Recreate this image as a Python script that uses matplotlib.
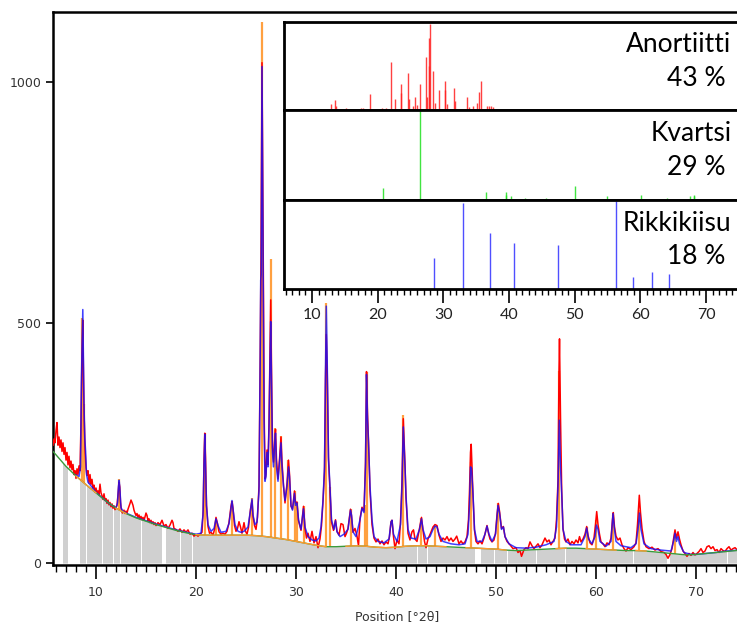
import matplotlib.pyplot as plt
from matplotlib.ticker import MultipleLocator
import numpy as np

# background line (counts) under the pattern
bg_x = [5.7, 6, 7, 8, 9, 10, 11, 12, 13, 14, 15, 16, 17, 18, 19, 20, 21, 22, 23, 24, 25,
        26, 27, 28, 29, 30, 31, 32, 33, 34, 35, 36, 37, 38, 39, 40, 41, 42, 43, 44, 45,
        46, 47, 48, 49, 50, 51, 52, 53, 54, 55, 56, 57, 58, 59, 60, 61, 62, 63, 64, 65,
        66, 67, 68, 69, 70, 71, 72, 73, 74, 74.5]
bg_y = [232, 225, 201, 181, 163, 146, 129, 114, 103, 94, 87, 80, 74, 68, 63, 59, 58, 58, 58, 58, 58,
        57, 55, 52, 49, 45, 41, 37, 34, 34, 35, 36, 35, 33, 32, 33, 35, 36, 36, 35, 34,
        33, 32, 31, 30, 29, 27, 26, 27, 28, 29, 30, 31, 31, 30, 29, 28, 27, 26, 26, 25,
        23, 21, 19, 17, 18, 20, 22, 24, 26, 27]

# ranges where the background is drawn orange instead of green
orange_bg_ranges = [(8, 10), (12, 13), (20, 33), (35, 45), (47, 51), (56, 57), (59, 62), (64, 65)]

# white gaps in the grey area
gaps = [(5.6, 6.65), (7.15, 8.4), (9.0, 9.08), (9.75, 9.83), (10.6, 10.68), (11.25, 11.33),
        (11.7, 11.78), (12.4, 12.5), (14.5, 14.6), (16.6, 17.0), (18.4, 18.48), (19.6, 19.68),
        (42.1, 42.18), (43.1, 43.18), (44.45, 44.55), (47.9, 48.45), (49.75, 49.85),
        (51.1, 51.2), (54.0, 54.1), (56.85, 56.95), (63.65, 63.75), (67.1, 67.4), (73.1, 73.2)]

# observed pattern (red)
obs = [
    (5.7, 245), (5.8, 258), (5.9, 250), (6.0, 275), (6.1, 292), (6.2, 245), (6.3, 262), (6.4, 240),
    (6.5, 256), (6.6, 232), (6.7, 250), (6.8, 226), (6.9, 240), (7.0, 214), (7.1, 230), (7.2, 204),
    (7.3, 222), (7.4, 198), (7.5, 212), (7.6, 194), (7.7, 205), (7.8, 184), (7.9, 192), (8.0, 176),
    (8.1, 196), (8.2, 184), (8.3, 202), (8.4, 192), (8.5, 290), (8.6, 430), (8.68, 505), (8.75, 385),
    (8.82, 300), (8.9, 238), (9.0, 198), (9.1, 182), (9.2, 192), (9.3, 166), (9.4, 184), (9.5, 164),
    (9.6, 174), (9.7, 156), (9.8, 162), (9.9, 148), (10.0, 156), (10.1, 146), (10.2, 150), (10.3, 142),
    (10.4, 164), (10.5, 146), (10.6, 140), (10.7, 132), (10.8, 144), (10.9, 130), (11.0, 134),
    (11.1, 124), (11.2, 131), (11.3, 121), (11.4, 126), (11.5, 117), (11.6, 123), (11.7, 114),
    (11.8, 119), (11.9, 111), (12.0, 116), (12.1, 120), (12.2, 142), (12.3, 168), (12.38, 158),
    (12.45, 126), (12.55, 108), (12.65, 104), (12.8, 110), (12.9, 103), (13.0, 108), (13.1, 104),
    (13.2, 112), (13.3, 118), (13.4, 124), (13.5, 131), (13.6, 126), (13.7, 120), (13.8, 110),
    (13.9, 104), (14.0, 99), (14.1, 103), (14.2, 95), (14.3, 100), (14.4, 92), (14.5, 97), (14.6, 90),
    (14.7, 95), (14.8, 89), (14.9, 96), (15.0, 104), (15.1, 99), (15.2, 88), (15.3, 92), (15.4, 84),
    (15.5, 89), (15.6, 82), (15.7, 86), (15.8, 80), (15.9, 84), (16.0, 78), (16.2, 84), (16.4, 80),
    (16.6, 89), (16.8, 77), (17.0, 80), (17.2, 72), (17.4, 79), (17.6, 89), (17.7, 84), (17.8, 72),
    (18.0, 70), (18.2, 66), (18.4, 71), (18.6, 64), (18.8, 69), (19.0, 64), (19.2, 69), (19.4, 60),
    (19.6, 62), (19.8, 56), (20.0, 59), (20.2, 56), (20.4, 60), (20.6, 64), (20.72, 110), (20.8, 215),
    (20.88, 270), (20.95, 220), (21.05, 120), (21.2, 76), (21.35, 62), (21.5, 64), (21.7, 58),
    (21.85, 70), (22.0, 95), (22.15, 82), (22.3, 65), (22.5, 60), (22.7, 62), (22.9, 60), (23.1, 66),
    (23.3, 84), (23.5, 118), (23.6, 128), (23.7, 114), (23.85, 78), (24.0, 66), (24.15, 72),
    (24.3, 86), (24.45, 75), (24.6, 62), (24.8, 84), (24.95, 66), (25.1, 60), (25.25, 74),
    (25.45, 112), (25.6, 130), (25.7, 98), (25.85, 78), (26.0, 70), (26.15, 95), (26.3, 160),
    (26.42, 430), (26.5, 640), (26.6, 1040), (26.68, 782), (26.75, 560), (26.83, 290), (26.92, 175),
    (27.0, 185), (27.1, 235), (27.2, 205), (27.3, 290), (27.4, 440), (27.47, 547), (27.55, 400),
    (27.65, 240), (27.75, 210), (27.85, 250), (27.95, 278), (28.05, 215), (28.2, 175), (28.35, 215),
    (28.5, 262), (28.6, 210), (28.75, 162), (28.9, 125), (29.1, 165), (29.25, 214), (29.35, 185),
    (29.5, 118), (29.65, 112), (29.85, 150), (29.95, 125), (30.1, 127), (30.25, 88), (30.5, 68),
    (30.65, 98), (30.75, 118), (30.9, 72), (31.05, 52), (31.2, 62), (31.4, 45), (31.6, 66),
    (31.8, 42), (32.0, 55), (32.2, 32), (32.4, 50), (32.55, 78), (32.7, 128), (32.85, 190),
    (32.95, 380), (33.03, 475), (33.12, 400), (33.25, 215), (33.4, 152), (33.55, 85), (33.75, 68),
    (33.95, 90), (34.1, 66), (34.3, 58), (34.5, 82), (34.7, 80), (34.9, 55), (35.05, 62), (35.2, 72),
    (35.45, 112), (35.55, 98), (35.7, 64), (35.9, 72), (36.1, 56), (36.25, 36), (36.4, 92),
    (36.6, 116), (36.8, 108), (36.95, 210), (37.05, 398), (37.15, 310), (37.25, 255), (37.4, 150),
    (37.6, 80), (37.8, 52), (38.0, 44), (38.2, 50), (38.4, 40), (38.6, 46), (38.8, 38), (39.0, 44),
    (39.2, 40), (39.35, 55), (39.5, 86), (39.6, 89), (39.75, 55), (39.9, 30), (40.1, 48), (40.3, 40),
    (40.45, 85), (40.6, 170), (40.73, 300), (40.82, 250), (40.9, 205), (41.0, 135), (41.2, 62),
    (41.4, 48), (41.6, 65), (41.75, 69), (41.9, 50), (42.1, 45), (42.35, 72), (42.55, 95), (42.7, 68),
    (42.85, 45), (43.0, 32), (43.2, 50), (43.45, 62), (43.7, 75), (43.9, 80), (44.1, 78), (44.3, 58),
    (44.5, 45), (44.7, 52), (44.9, 48), (45.1, 55), (45.3, 46), (45.5, 52), (45.7, 45), (45.9, 50),
    (46.07, 56), (46.3, 40), (46.5, 46), (46.7, 40), (46.9, 44), (47.1, 55), (47.25, 90),
    (47.35, 150), (47.45, 230), (47.52, 247), (47.6, 200), (47.7, 140), (47.85, 68), (48.0, 45),
    (48.2, 40), (48.4, 46), (48.6, 40), (48.8, 52), (49.0, 70), (49.1, 78), (49.25, 62), (49.4, 50),
    (49.6, 44), (49.8, 48), (49.95, 62), (50.1, 100), (50.23, 124), (50.35, 108), (50.55, 72),
    (50.73, 76), (50.9, 55), (51.1, 45), (51.4, 38), (51.7, 30), (52.0, 32), (52.2, 22), (52.4, 26),
    (52.55, 14), (52.8, 28), (53.0, 32), (53.2, 30), (53.4, 44), (53.6, 36), (53.8, 30), (54.0, 35),
    (54.2, 40), (54.4, 32), (54.6, 38), (54.9, 52), (55.1, 44), (55.3, 48), (55.5, 38), (55.7, 45),
    (55.9, 52), (56.05, 90), (56.2, 172), (56.3, 400), (56.35, 466), (56.45, 304), (56.57, 150),
    (56.7, 72), (56.85, 50), (57.0, 44), (57.2, 50), (57.4, 38), (57.6, 45), (57.8, 40), (58.0, 48),
    (58.2, 42), (58.35, 55), (58.5, 44), (58.7, 50), (58.9, 60), (59.07, 76), (59.2, 58), (59.4, 42),
    (59.6, 38), (59.8, 52), (59.95, 80), (60.07, 107), (60.2, 80), (60.35, 60), (60.5, 44),
    (60.7, 40), (60.9, 34), (61.1, 42), (61.3, 38), (61.5, 52), (61.65, 90), (61.73, 105),
    (61.85, 75), (62.0, 56), (62.2, 48), (62.4, 52), (62.6, 38), (62.8, 30), (63.0, 25), (63.2, 32),
    (63.5, 28), (63.8, 34), (64.0, 42), (64.15, 80), (64.33, 141), (64.45, 105), (64.6, 72),
    (64.8, 45), (65.0, 34), (65.3, 30), (65.6, 33), (65.9, 27), (66.2, 30), (66.5, 24), (66.8, 22),
    (67.0, 18), (67.2, 10), (67.4, 18), (67.6, 30), (67.75, 50), (67.9, 69), (68.05, 52), (68.2, 65),
    (68.35, 50), (68.5, 38), (68.7, 25), (68.9, 20), (69.1, 14), (69.3, 20), (69.5, 16), (69.7, 22),
    (69.9, 17), (70.1, 20), (70.3, 24), (70.5, 30), (70.7, 22), (70.9, 25), (71.1, 34), (71.3, 36),
    (71.5, 30), (71.7, 34), (71.9, 26), (72.1, 28), (72.3, 22), (72.5, 30), (72.7, 26), (72.9, 24),
    (73.1, 30), (73.3, 34), (73.5, 27), (73.7, 30), (73.9, 32), (74.1, 28), (74.3, 30),
]

# calculated pattern (blue)
calc = [
    (8.0, 183), (8.3, 180), (8.45, 200), (8.55, 390), (8.62, 470), (8.68, 527), (8.74, 420),
    (8.8, 330), (8.88, 260), (8.96, 232), (9.05, 185), (9.2, 168), (9.6, 158), (10.0, 147),
    (10.5, 138), (11.0, 129), (11.5, 121), (12.0, 115), (12.15, 125), (12.25, 160), (12.32, 172),
    (12.4, 150), (12.5, 115), (12.7, 108), (13.0, 104), (14.0, 95), (15.0, 88), (16.0, 81),
    (17.0, 75), (18.0, 69), (19.0, 64), (20.0, 60), (20.5, 62), (20.7, 100), (20.8, 205),
    (20.88, 268), (20.95, 210), (21.05, 120), (21.2, 80), (21.5, 66), (21.8, 72), (22.0, 92),
    (22.2, 78), (22.5, 64), (23.0, 66), (23.3, 82), (23.5, 115), (23.6, 130), (23.7, 112),
    (23.9, 80), (24.2, 66), (24.5, 64), (24.8, 66), (25.2, 75), (25.45, 110), (25.6, 133),
    (25.7, 100), (25.9, 80), (26.1, 85), (26.3, 150), (26.42, 420), (26.47, 588), (26.52, 600),
    (26.6, 1032), (26.66, 800), (26.72, 600), (26.8, 300), (26.9, 170), (27.0, 180), (27.1, 230),
    (27.2, 200), (27.3, 280), (27.4, 420), (27.47, 502), (27.55, 380), (27.65, 230), (27.75, 200),
    (27.85, 240), (27.95, 270), (28.05, 200), (28.2, 170), (28.35, 210), (28.5, 250), (28.6, 200),
    (28.75, 160), (28.9, 130), (29.1, 160), (29.25, 200), (29.35, 180), (29.5, 120), (29.65, 110),
    (29.85, 145), (29.95, 120), (30.1, 125), (30.25, 90), (30.5, 70), (30.65, 95), (30.75, 113),
    (30.9, 75), (31.2, 55), (31.6, 48), (32.0, 46), (32.3, 52), (32.5, 75), (32.7, 130),
    (32.85, 200), (32.95, 400), (33.03, 534), (33.12, 420), (33.25, 220), (33.4, 158), (33.55, 90),
    (33.8, 70), (33.95, 88), (34.1, 65), (34.4, 55), (34.8, 60), (35.2, 70), (35.45, 110),
    (35.55, 100), (35.7, 65), (36.0, 55), (36.4, 90), (36.6, 114), (36.8, 105), (36.95, 200),
    (37.05, 392), (37.15, 300), (37.25, 250), (37.4, 160), (37.6, 90), (37.8, 55), (38.2, 45),
    (38.8, 42), (39.3, 50), (39.5, 85), (39.6, 89), (39.75, 60), (40.1, 45), (40.45, 80),
    (40.6, 160), (40.73, 283), (40.82, 240), (40.9, 200), (41.0, 140), (41.2, 70), (41.5, 52),
    (42.0, 50), (42.35, 70), (42.55, 92), (42.7, 70), (43.0, 50), (43.4, 55), (43.7, 70),
    (43.9, 77), (44.1, 75), (44.3, 60), (44.7, 45), (45.5, 40), (46.3, 38), (46.9, 40), (47.2, 60),
    (47.35, 120), (47.45, 200), (47.55, 197), (47.7, 145), (47.85, 70), (48.1, 45), (48.6, 45),
    (48.9, 60), (49.1, 77), (49.3, 60), (49.6, 45), (49.95, 60), (50.2, 120), (50.35, 105),
    (50.55, 70), (50.75, 75), (50.9, 55), (51.3, 40), (52.0, 32), (53.0, 31), (54.0, 33), (55.0, 38),
    (55.8, 45), (56.05, 75), (56.2, 160), (56.33, 297), (56.45, 200), (56.57, 145), (56.7, 70),
    (57.0, 45), (57.5, 38), (58.5, 38), (58.9, 55), (59.07, 73), (59.25, 50), (59.6, 40), (59.9, 55),
    (60.05, 79), (60.2, 70), (60.4, 45), (61.0, 35), (61.5, 45), (61.7, 103), (61.85, 70), (62.0, 45),
    (62.5, 36), (63.5, 32), (64.0, 40), (64.2, 70), (64.35, 104), (64.5, 70), (64.8, 40), (65.5, 30),
    (66.5, 27), (67.5, 25), (67.75, 45), (67.9, 62), (68.05, 45), (68.2, 55), (68.35, 40), (68.8, 22),
    (69.5, 18), (70.0, 18), (71.0, 20), (72.0, 22), (73.0, 25), (74.3, 27),
]

# reflection markers (orange sticks)
stick_x = [8.62, 8.8, 12.3, 20.85, 22.0, 23.6, 25.6, 26.57, 27.47, 27.9, 28.5, 29.2, 29.85, 30.1,
           30.75, 33.0, 33.4, 35.5, 36.9, 37.07, 40.7, 42.5, 43.9, 47.5, 50.2, 56.3, 59.07, 60.0,
           61.7, 64.3, 67.9]
stick_y = [509, 330, 175, 270, 90, 128, 135, 1125, 633, 280, 265, 214, 150, 127, 118, 540, 158,
           112, 120, 398, 308, 93, 77, 210, 124, 400, 75, 90, 100, 110, 60]

# reference patterns in the inset (relative intensity)
anor_x = [12.85, 13.5, 13.6, 15.2, 17.4, 17.8, 18.9, 20.7, 21.3, 22.0, 22.6, 23.5, 23.6, 24.6,
          24.7, 25.4, 25.7, 26.0, 26.45, 27.3, 27.45, 27.75, 27.85, 27.92, 28.5, 28.7, 29.3,
          30.2, 30.3, 30.6, 31.6, 31.75, 33.65, 33.9, 34.5, 35.2, 35.5, 35.8, 36.6, 36.9, 37.2, 37.5]
anor_h = [0.07, 0.11, 0.04, 0.02, 0.02, 0.02, 0.18, 0.02, 0.02, 0.55, 0.13, 0.29, 0.19, 0.42,
          0.12, 0.04, 0.15, 0.06, 0.30, 0.60, 0.15, 0.50, 0.82, 0.98, 0.44, 0.08, 0.23,
          0.33, 0.23, 0.07, 0.25, 0.10, 0.15, 0.03, 0.05, 0.08, 0.20, 0.33, 0.05, 0.05, 0.04, 0.03]
kvar_x = [20.77, 26.5, 36.45, 39.5, 39.6, 40.25, 42.4, 45.7, 50.1, 54.9, 60.05, 64.0, 67.6,
          68.1, 68.2, 73.4]
kvar_h = [0.13, 1.0, 0.09, 0.09, 0.06, 0.04, 0.02, 0.02, 0.16, 0.04, 0.06, 0.02, 0.04,
          0.06, 0.04, 0.01]
rikki_x = [28.58, 33.0, 37.1, 40.76, 47.46, 56.3, 58.9, 61.77, 64.36]
rikki_h = [0.35, 0.97, 0.63, 0.52, 0.49, 0.99, 0.14, 0.19, 0.17]

phase_names = ['Anortiitti', 'Kvartsi', 'Rikkikiisu']
phase_pct = ['43 %', '29 %', '18 %']

obs_x, obs_y = np.array(obs).T
calc_x, calc_y = np.array(calc).T
bg_x = np.array(bg_x)
bg_y = np.array(bg_y)

W, H = 737, 627
fig = plt.figure(figsize=(W / 100, H / 100), dpi=100)

# ---- main pattern ----
ax = fig.add_axes([53 / W, 62 / H, (741 - 53) / W, (565 - 11.7) / H])
ax.set_xlim(5.7, 74.5)
ax.set_ylim(-4, 1146)

ax.fill_between(bg_x, 0, bg_y, color='#d0d0d0', lw=0, zorder=1)
for lo, hi in gaps:
    ax.axvspan(lo, hi, color='white', lw=0, zorder=1.5)

base = np.interp(stick_x, bg_x, bg_y)
ax.vlines(stick_x, base, stick_y, color='#ffa040', lw=1.6, zorder=2)
ax.plot(obs_x, obs_y, color='#ff0000', lw=1.1, zorder=3)
ax.plot(calc_x, calc_y, color='#1010ff', lw=1.1, alpha=0.8, zorder=4)
ax.plot(bg_x, bg_y, color='#3a9a3a', lw=1.0, zorder=5)
for lo, hi in orange_bg_ranges:
    m = (bg_x >= lo) & (bg_x <= hi)
    ax.plot(bg_x[m], bg_y[m], color='#ff9a30', lw=1.0, zorder=5.5)

for side in ['left', 'top', 'bottom']:
    ax.spines[side].set_linewidth(1.8)
ax.spines['right'].set_visible(False)

ax.set_yticks([0, 500, 1000])
ax.xaxis.set_major_locator(MultipleLocator(10))
ax.xaxis.set_minor_locator(MultipleLocator(1))
ax.set_xticks(range(10, 71, 10))
ax.tick_params(axis='y', direction='out', length=5, width=1.2, labelsize=9, labelcolor='#333333')
ax.tick_params(axis='x', which='major', direction='out', length=10, width=1.2, labelsize=9,
               labelcolor='#333333', pad=5)
ax.tick_params(axis='x', which='minor', direction='out', length=5, width=1.0)
ax.set_xlabel('Position [°2θ]', fontsize=9, color='#333333', labelpad=8)

# ---- inset with reference patterns ----
panels = [(22, 110, anor_x, anor_h, '#ff2020'),
          (110, 200, kvar_x, kvar_h, '#20e020'),
          (200, 289, rikki_x, rikki_h, '#3030ff')]
for i, (top, bot, px, ph, col) in enumerate(panels):
    a = fig.add_axes([284 / W, (H - bot) / H, (741 - 284) / W, (bot - top) / H])
    a.set_facecolor('white')
    a.set_xlim(5.74, 75.33)
    a.set_ylim(0, 1.0)
    a.vlines(px, 0, ph, color=col, lw=1.0, alpha=0.85)
    for s in a.spines.values():
        s.set_linewidth(2)
    a.set_yticks([])
    a.text(73.9, 0.74, phase_names[i], ha='right', va='center', fontsize=19, family='Lato')
    a.text(73.0, 0.36, phase_pct[i], ha='right', va='center', fontsize=19, family='Lato')
    if i < 2:
        a.set_xticks([])
    else:
        a.xaxis.set_major_locator(MultipleLocator(10))
        a.xaxis.set_minor_locator(MultipleLocator(1))
        a.set_xticks(range(10, 71, 10))
        a.tick_params(axis='x', which='major', direction='out', length=10, width=1.2,
                      labelsize=11.5, labelcolor='#222222')
        a.tick_params(axis='x', which='minor', direction='out', length=4, width=1.0)
        for lab in a.get_xticklabels():
            lab.set_family('Lato')

fig.savefig('out.png', dpi=100)
